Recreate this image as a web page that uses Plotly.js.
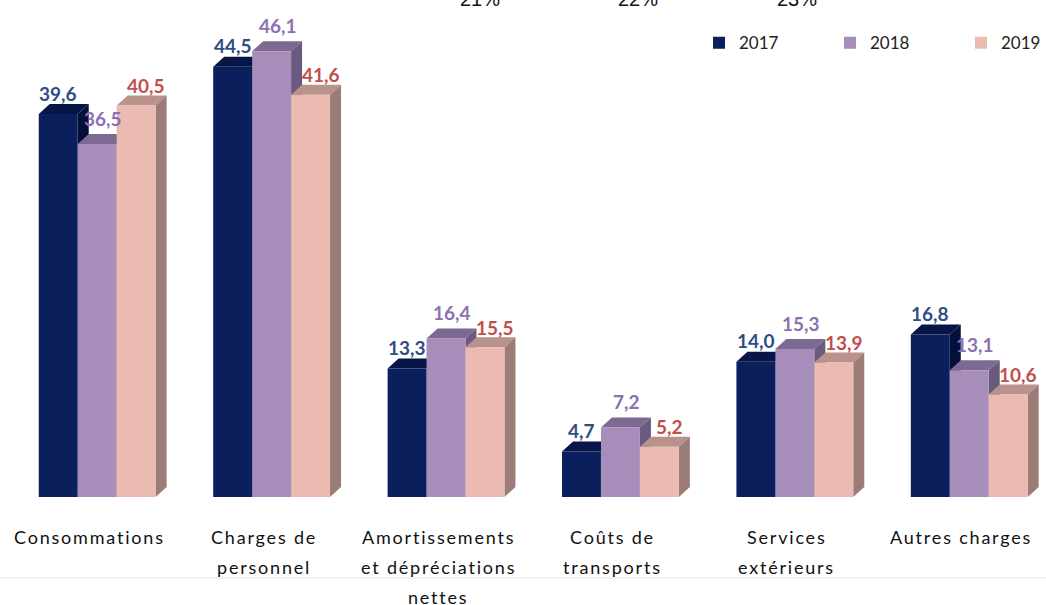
<!DOCTYPE html>
<html>
<head>
<meta charset="utf-8">
<script src="https://cdn.plot.ly/plotly-3.0.1.min.js"></script>
<style>html,body{margin:0;padding:0;background:#fff;}#chart{width:1046px;height:605px;}</style>
</head>
<body>
<div id="chart"></div>
<script>
// ---- data ----
const categories = ['Consommations', 'Charges de<br>personnel', 'Amortissements<br>et dépréciations<br>nettes', 'Coûts de<br>transports', 'Services<br>extérieurs', 'Autres charges'];
const years = ['2017', '2018', '2019'];
const v2017 = [39.6, 44.5, 13.3, 4.7, 14.0, 16.8];
const v2018 = [36.5, 46.1, 16.4, 7.2, 15.3, 13.1];
const v2019 = [40.5, 41.6, 15.5, 5.2, 13.9, 10.6];
const topLabels = ['21%', '22%', '23%'];
const topLabelPos = [2.195, 3.10, 4.013];

// ---- styles ----
const frontColors = ['#0B1F5C', '#A68DBA', '#EBBBB1'];
const topColors = ['#071646', '#7D6A93', '#B8928B'];
const sideColors = ['#05103A', '#6B5A80', '#9C7C77'];
const labelColors = ['#2E4E85', '#8D70B3', '#C24E4C'];
const labelXShift = [0, 6, 10];
const labelYShift = [21, 26, 20];

const series = [v2017, v2018, v2019];
const W = 1046, H = 605;
const mL = 10, mR = 0, mT = 0, mB = 108;
const xRange = [-0.5, 5.44];
const yRange = [0, 51.4];
const bargap = 0.33;
const bw = (1 - bargap) / 3;
const pxPerX = (W - mL - mR) / (xRange[1] - xRange[0]);
const pxPerY = (H - mT - mB) / (yRange[1] - yRange[0]);
const dX = 11 / pxPerX, dY = 10 / pxPerY;

const xs = categories.map((c, i) => i);
const fmt = v => v.toFixed(1).replace('.', ',');

const traces = series.map((vals, s) => ({
  type: 'bar', x: xs, y: vals, name: years[s],
  marker: {color: frontColors[s], line: {width: 0}},
  hoverinfo: 'skip'
}));

const shapes = [];
const annotations = [];
series.forEach((vals, s) => {
  vals.forEach((v, j) => {
    const xc = j + (s - 1) * bw;
    const x0 = xc - bw / 2, x1 = xc + bw / 2;
    shapes.push({type: 'path', xref: 'x', yref: 'y', layer: 'below',
      path: `M${x0},${v} L${x1},${v} L${x1 + dX},${v + dY} L${x0 + dX},${v + dY} Z`,
      fillcolor: topColors[s], line: {width: 0}});
    shapes.push({type: 'path', xref: 'x', yref: 'y', layer: 'below',
      path: `M${x1},0 L${x1},${v} L${x1 + dX},${v + dY} L${x1 + dX},${dY} Z`,
      fillcolor: sideColors[s], line: {width: 0}});
    annotations.push({x: xc, y: v, xref: 'x', yref: 'y', text: fmt(v), showarrow: false,
      xanchor: 'center', yanchor: 'middle', xshift: labelXShift[s], yshift: labelYShift[s],
      font: {family: 'Lato, sans-serif', size: 19, color: labelColors[s], weight: 700}});
  });
});

// category labels, one annotation per line
categories.forEach((c, j) => {
  c.split('<br>').forEach((line, k) => {
    annotations.push({x: j, y: 0, xref: 'x', yref: 'y',
      text: '<span style="letter-spacing:1.8px">' + line + '</span>', showarrow: false,
      xanchor: 'center', yanchor: 'middle', xshift: -8, yshift: -(40 + 30 * k),
      font: {family: 'Lato, sans-serif', size: 18, color: '#111'}});
  });
});

// cut-off percentages at top
topLabels.forEach((t, k) => {
  annotations.push({x: topLabelPos[k], y: 1, xref: 'x', yref: 'paper', text: t, showarrow: false,
    xanchor: 'center', yanchor: 'bottom', yshift: -12,
    font: {family: 'Liberation Sans, Arial, sans-serif', size: 20, color: '#111'}});
});

// faint separator line
shapes.push({type: 'line', xref: 'paper', yref: 'paper', x0: -0.01, x1: 1, y0: -81 / (H - mT - mB), y1: -81 / (H - mT - mB),
  line: {color: '#e4e4e4', width: 1}, layer: 'below'});

const layout = {
  width: W, height: H,
  margin: {l: mL, r: mR, t: mT, b: mB, pad: 0, autoexpand: false},
  paper_bgcolor: '#fff', plot_bgcolor: '#fff',
  barmode: 'group', bargap: bargap, bargroupgap: 0,
  showlegend: true,
  legend: {orientation: 'h', x: (699 - mL) / (W - mL - mR), xanchor: 'left', y: 0.913, yanchor: 'middle',
    entrywidth: 86, font: {family: 'Lato, sans-serif', size: 17, color: '#222'}, bgcolor: 'rgba(0,0,0,0)'},
  xaxis: {range: xRange, showgrid: false, zeroline: false, showline: false, showticklabels: false, ticks: '', fixedrange: true},
  yaxis: {range: yRange, showgrid: false, zeroline: false, showline: false, showticklabels: false, ticks: '', fixedrange: true},
  shapes: shapes,
  annotations: annotations
};

Plotly.newPlot('chart', traces, layout, {displayModeBar: false, staticPlot: true});
</script>
</body>
</html>
